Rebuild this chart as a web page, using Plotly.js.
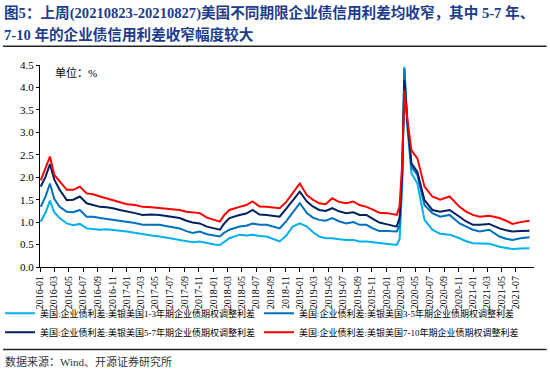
<!DOCTYPE html>
<html>
<head>
<meta charset="utf-8">
<script src="https://cdn.plot.ly/plotly-3.0.1.min.js"></script>
<style>html,body{margin:0;padding:0;background:#fff;}#chart{width:550px;height:372px;}</style>
</head>
<body>
<div id="chart"></div>
<script>
var dates = ['2016-01-04','2016-01-25','2016-02-12','2016-03-01','2016-03-24','2016-04-23','2016-05-20','2016-06-17','2016-07-16','2016-08-12',
'2016-09-10','2016-10-08','2016-11-04','2016-12-03','2017-01-02','2017-02-05','2017-03-09','2017-04-15','2017-05-19','2017-06-20',
'2017-07-15','2017-08-12','2017-09-10','2017-10-06','2017-11-05','2017-12-05','2018-01-05','2018-01-29','2018-02-15','2018-03-10',
'2018-04-22','2018-05-20','2018-06-16','2018-07-15','2018-08-14','2018-09-10','2018-10-08','2018-11-05','2018-12-02','2019-01-01',
'2019-01-31','2019-02-25','2019-03-24','2019-04-20','2019-05-18','2019-06-15','2019-07-16','2019-08-15','2019-09-10','2019-10-09',
'2019-11-05','2019-12-03','2020-01-05','2020-02-14','2020-02-26','2020-03-08','2020-03-17','2020-03-30','2020-04-16','2020-05-11',
'2020-06-10','2020-07-13','2020-08-15','2020-09-24','2020-11-05','2020-12-01','2020-12-31','2021-01-29','2021-03-10','2021-04-22',
'2021-05-20','2021-06-16','2021-07-20','2021-08-27'];

var oas13 = [1.01,1.22,1.48,1.22,1.09,0.97,0.93,0.96,0.86,0.85,
0.83,0.84,0.83,0.81,0.79,0.76,0.72,0.70,0.68,0.66,
0.63,0.60,0.57,0.55,0.57,0.53,0.50,0.49,0.56,0.64,
0.72,0.70,0.72,0.69,0.68,0.63,0.57,0.70,0.90,0.97,
0.90,0.78,0.68,0.64,0.64,0.62,0.60,0.60,0.57,0.57,
0.55,0.53,0.51,0.49,0.62,1.80,4.46,3.10,2.09,1.86,
1.05,0.83,0.74,0.72,0.64,0.58,0.53,0.53,0.52,0.45,
0.42,0.40,0.41,0.42];

var oas35 = [1.34,1.58,1.86,1.52,1.34,1.23,1.22,1.27,1.12,1.12,
1.09,1.07,1.05,1.03,1.01,0.98,0.94,0.94,0.94,0.91,
0.88,0.86,0.80,0.76,0.79,0.73,0.70,0.68,0.76,0.83,
0.90,0.92,0.97,0.94,0.94,0.90,0.86,1.02,1.20,1.42,
1.20,1.10,1.05,1.03,1.09,1.02,0.97,1.00,0.94,0.94,
0.86,0.80,0.80,0.79,0.92,2.00,4.42,3.20,2.23,2.05,
1.38,1.20,1.12,1.16,0.97,0.90,0.83,0.79,0.83,0.68,
0.63,0.60,0.64,0.66];

var oas57 = [1.79,2.02,2.29,1.95,1.72,1.49,1.50,1.57,1.42,1.38,
1.34,1.33,1.31,1.27,1.23,1.20,1.16,1.17,1.16,1.13,
1.11,1.09,1.03,0.99,0.97,0.90,0.86,0.83,0.96,1.09,
1.16,1.19,1.27,1.17,1.16,1.14,1.12,1.30,1.49,1.68,
1.46,1.35,1.27,1.25,1.31,1.24,1.20,1.22,1.16,1.16,
1.07,0.99,0.95,0.90,1.10,2.10,4.16,3.23,2.31,2.12,
1.49,1.27,1.23,1.27,1.12,1.02,0.94,0.94,0.96,0.86,
0.82,0.79,0.80,0.81];

var oas710 = [1.93,2.20,2.46,2.05,1.90,1.72,1.72,1.79,1.64,1.62,
1.57,1.53,1.49,1.45,1.40,1.38,1.34,1.33,1.31,1.30,
1.28,1.27,1.23,1.22,1.20,1.10,1.05,1.01,1.15,1.27,
1.34,1.38,1.46,1.35,1.34,1.33,1.31,1.45,1.64,1.86,
1.60,1.50,1.42,1.40,1.53,1.45,1.42,1.46,1.38,1.34,
1.28,1.21,1.20,1.16,1.35,2.30,3.94,3.27,2.60,2.42,
1.79,1.57,1.50,1.57,1.34,1.24,1.16,1.12,1.14,1.09,
1.03,0.96,1.00,1.03];

var seriesNames = ['美国:企业债利差:美银美国1-3年期企业债期权调整利差',
'美国:企业债利差:美银美国3-5年期企业债期权调整利差',
'美国:企业债利差:美银美国5-7年期企业债期权调整利差',
'美国:企业债利差:美银美国7-10年期企业债期权调整利差'];
var seriesColors = ['#00B0F0','#0070C0','#002060','#FF0000'];
var seriesValues = [oas13, oas35, oas57, oas710];

var titleLines = ['图5：上周(20210823-20210827)美国不同期限企业债信用利差均收窄，其中 5-7 年、',
'7-10 年的企业债信用利差收窄幅度较大'];

var tickVals = [];
var tickText = [];
for (var y = 2016; y <= 2021; y++) {
  for (var m = 1; m <= 12; m += 2) {
    if (y === 2021 && m > 7) break;
    var mm = (m < 10 ? '0' : '') + m;
    tickVals.push(y + '-' + mm + '-01');
    tickText.push(y + '-' + mm);
  }
}

var serif = 'Liberation Serif, Times New Roman, Noto Sans CJK SC, serif';
var traces = seriesValues.map(function (v, i) {
  return {x: dates, y: v, type: 'scatter', mode: 'lines', name: seriesNames[i],
    line: {color: seriesColors[i], width: 2}};
});

var plotL = 40, plotR = 534.4, plotT = 64.7, plotB = 267.2;
function px(xp) { return (xp - plotL) / (plotR - plotL); }
function py(yp) { return (plotB - yp) / (plotB - plotT); }

var titleFont = {family: serif, size: 14.6, color: '#1C3C8C', weight: 'bold'};

var layout = {
  width: 550, height: 372,
  margin: {l: plotL, r: 550 - plotR, t: plotT, b: 372 - plotB, pad: 0, autoexpand: false},
  paper_bgcolor: '#fff', plot_bgcolor: '#fff',
  showlegend: true,
  xaxis: {
    type: 'date', range: ['2016-01-01', '2021-09-15'],
    tickmode: 'array', tickvals: tickVals, ticktext: tickText, tickangle: -90,
    ticks: 'outside', ticklen: 4, tickcolor: '#000', showline: true, linecolor: '#000', linewidth: 1,
    showgrid: false, zeroline: false,
    tickfont: {family: serif, size: 10, color: '#000'}
  },
  yaxis: {
    range: [0, 4.5], dtick: 0.5, tick0: 0, tickformat: '.1f',
    ticks: 'outside', ticklen: 3, tickcolor: '#000', showline: true, linecolor: '#000', linewidth: 1,
    showgrid: false, zeroline: false,
    tickfont: {family: serif, size: 11, color: '#000'}
  },
  legend: {
    orientation: 'h', xref: 'paper', yref: 'paper', x: px(0), xanchor: 'left',
    y: py(299), yanchor: 'top',
    entrywidth: 214, entrywidthmode: 'pixels', itemwidth: 30, tracegroupgap: 0,
    font: {family: serif, size: 9, color: '#000'},
    bgcolor: 'rgba(0,0,0,0)', borderwidth: 0
  },
  shapes: [
    {type: 'line', xref: 'paper', yref: 'paper', x0: px(3), x1: px(547), y0: py(46), y1: py(46),
     line: {color: '#222', width: 1.5}},
    {type: 'line', xref: 'paper', yref: 'paper', x0: px(3), x1: px(547), y0: py(350), y1: py(350),
     line: {color: '#222', width: 1.5}}
  ],
  annotations: [
    {text: titleLines[0], xref: 'paper', yref: 'paper', x: px(2), y: py(13), xanchor: 'left', yanchor: 'middle',
     showarrow: false, font: titleFont},
    {text: titleLines[1], xref: 'paper', yref: 'paper', x: px(2), y: py(34), xanchor: 'left', yanchor: 'middle',
     showarrow: false, font: titleFont},
    {text: '单位：%', xref: 'paper', yref: 'paper', x: px(53), y: py(72), xanchor: 'left', yanchor: 'middle',
     showarrow: false, font: {family: serif, size: 11, color: '#000'}},
    {text: '数据来源：Wind、开源证券研究所', xref: 'paper', yref: 'paper', x: px(3), y: py(362),
     xanchor: 'left', yanchor: 'middle', showarrow: false, font: {family: serif, size: 11, color: '#333'}}
  ]
};

Plotly.newPlot('chart', traces, layout, {displayModeBar: false, staticPlot: true});
</script>
</body>
</html>
